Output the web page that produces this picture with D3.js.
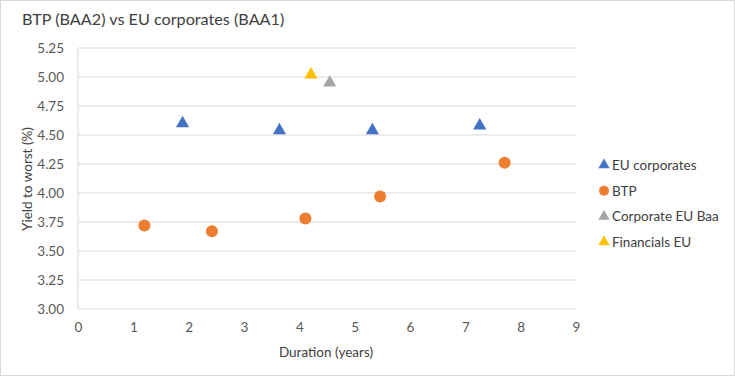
<!DOCTYPE html>
<html><head><meta charset="utf-8">
<script src="https://cdn.jsdelivr.net/npm/d3@7"></script>
<style>body{margin:0;background:#fff;font-family:Lato,"Open Sans",sans-serif;}</style>
</head><body>
<svg id="c" width="735" height="376"></svg>
<script>
const euCorpX = [1.89, 3.64, 5.32, 7.26];
const euCorpY = [4.60, 4.54, 4.54, 4.58];
const btpX = [1.20, 2.42, 4.11, 5.46, 7.71];
const btpY = [3.72, 3.67, 3.78, 3.97, 4.26];
const corpBaaX = [4.55];
const corpBaaY = [4.95];
const finX = [4.21];
const finY = [5.02];
const xTicks = [0,1,2,3,4,5,6,7,8,9];
const yTicks = [3.00,3.25,3.50,3.75,4.00,4.25,4.50,4.75,5.00,5.25];
const seriesNames = ["EU corporates","BTP","Corporate EU Baa","Financials EU"];
const colors = ["#4472C4","#ED7D31","#A5A5A5","#FFC000"];
const shapes = ["tri","circ","tri","tri"];

const svg = d3.select("#c");
svg.append("rect").attr("x",0.5).attr("y",0.5).attr("width",734).attr("height",375).attr("fill","#fff").attr("stroke","#d9d9d9");
const x = d3.scaleLinear().domain([0,9]).range([78,576]);
const y = d3.scaleLinear().domain([3,5.25]).range([309,48]);
const font = "Lato, 'Open Sans', sans-serif";

svg.append("text").attr("x",22).attr("y",25).attr("font-size",16.2).attr("fill","#404040").attr("font-family",font).text("BTP (BAA2) vs EU corporates (BAA1)");

// gridlines
svg.append("g").selectAll("line").data(yTicks).join("line")
  .attr("x1",x(0)).attr("x2",x(9)).attr("y1",d=>y(d)).attr("y2",d=>y(d))
  .attr("stroke","#d9d9d9").attr("stroke-width",1);
svg.append("line").attr("x1",x(0)).attr("x2",x(0)).attr("y1",y(5.25)).attr("y2",y(3)).attr("stroke","#d9d9d9");

const yAxis = svg.append("g").attr("transform",`translate(${x(0)},0)`)
  .call(d3.axisLeft(y).tickValues(yTicks).tickFormat(d3.format(".2f")).tickSize(0).tickPadding(14));
const xAxis = svg.append("g").attr("transform",`translate(0,${y(3)})`)
  .call(d3.axisBottom(x).tickValues(xTicks).tickFormat(d3.format("d")).tickSize(0).tickPadding(13));
[yAxis,xAxis].forEach(a=>{a.select(".domain").remove();a.selectAll("text").attr("font-size",13.5).attr("fill","#595959").attr("font-family",font);});

svg.append("text").attr("transform","translate(32,179) rotate(-90)").attr("text-anchor","middle")
  .attr("font-size",13.5).attr("fill","#404040").attr("font-family",font).text("Yield to worst (%)");
svg.append("text").attr("x",326).attr("y",357).attr("text-anchor","middle")
  .attr("font-size",13.5).attr("fill","#404040").attr("font-family",font).text("Duration (years)");

const tri = d3.symbol().type(d3.symbolTriangle).size(75);
function draw(xs,ys,i){
  const data = xs.map((v,k)=>[v,ys[k]]);
  const g = svg.append("g");
  if(shapes[i]==="circ"){
    g.selectAll("circle").data(data).join("circle").attr("cx",d=>x(d[0])).attr("cy",d=>y(d[1])).attr("r",6).attr("fill",colors[i]);
  } else {
    g.selectAll("path").data(data).join("path").attr("d",tri).attr("transform",d=>`translate(${x(d[0])},${y(d[1])})`).attr("fill",colors[i]);
  }
}
draw(euCorpX,euCorpY,0);
draw(btpX,btpY,1);
draw(corpBaaX,corpBaaY,2);
draw(finX,finY,3);

// legend
const lg = svg.append("g");
seriesNames.forEach((n,i)=>{
  const cy = 165 + i*25.7;
  if(shapes[i]==="circ") lg.append("circle").attr("cx",604).attr("cy",cy).attr("r",5).attr("fill",colors[i]);
  else lg.append("path").attr("d",d3.symbol().type(d3.symbolTriangle).size(55)).attr("transform",`translate(604,${cy})`).attr("fill",colors[i]);
  lg.append("text").attr("x",612).attr("y",cy+5).attr("font-size",13.5).attr("fill","#404040").attr("font-family",font).text(n);
});
</script>
</body></html>
